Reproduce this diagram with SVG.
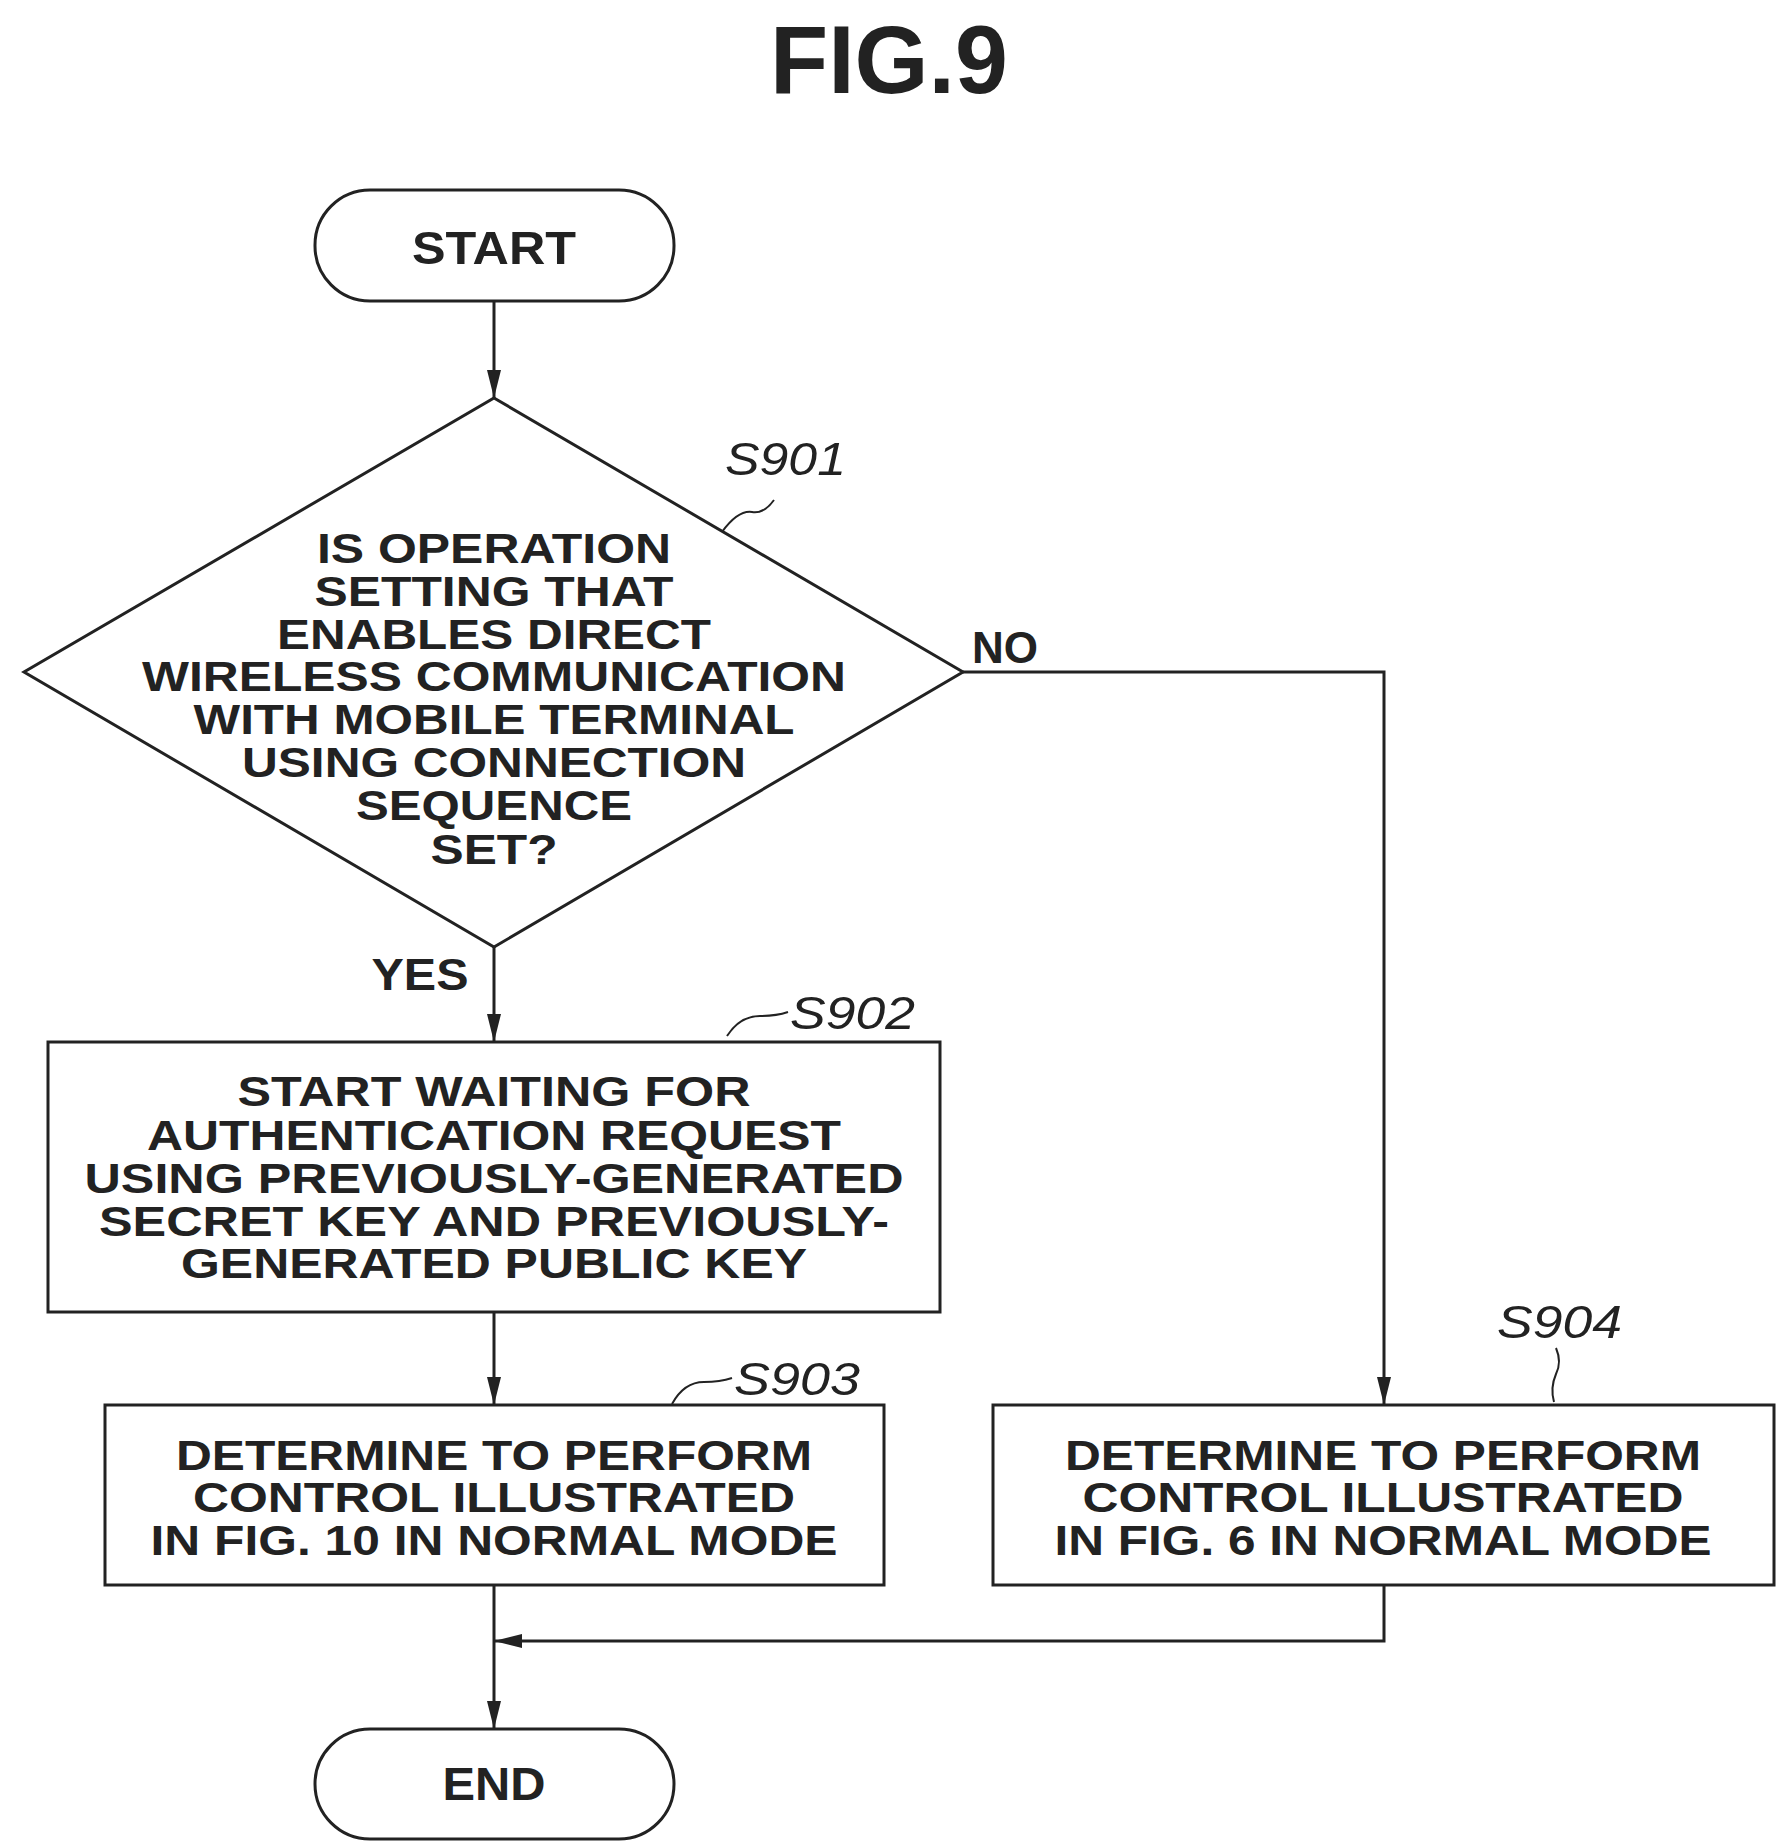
<svg xmlns="http://www.w3.org/2000/svg" width="1782" height="1848" viewBox="0 0 1782 1848">
<style>
.s{fill:#fff;stroke:#222;stroke-width:3}
.t{font-family:"Liberation Sans",Arial,sans-serif;font-weight:bold;font-size:42px;fill:#222;text-anchor:middle}
.l{font-family:"Liberation Sans",Arial,sans-serif;font-style:italic;font-size:46px;fill:#222}
.c{fill:none;stroke:#222;stroke-width:3}
</style>
<defs>
<marker id="b" markerWidth="28" markerHeight="14" refX="28" refY="7" orient="auto" markerUnits="userSpaceOnUse"><path d="M0,0 L28,7 L0,14 Z" fill="#222"/></marker></defs>
<text x="889" y="93" class="t" style="font-size:96px" textLength="238" lengthAdjust="spacingAndGlyphs">FIG.9</text>
<g id="connectors">
<path class="c" d="M494,301 V398" marker-end="url(#b)"/>
<path class="c" d="M494,947 V1042" marker-end="url(#b)"/>
<path class="c" d="M963,672 H1384 V1405" marker-end="url(#b)"/>
<path class="c" d="M494,1312 V1405" marker-end="url(#b)"/>
<path class="c" d="M494,1585 V1729" marker-end="url(#b)"/>
<path class="c" d="M1384,1585 V1641 H494" marker-end="url(#b)"/>
<text x="972" y="663" class="t" style="text-anchor:start;font-size:44px">NO</text>
<text x="420" y="990" class="t" style="font-size:44px" textLength="97" lengthAdjust="spacingAndGlyphs">YES</text>
</g>
<g id="start"><rect class="s" x="315" y="190" width="359" height="111" rx="55"/><text x="494" y="264" class="t" style="font-size:46px" textLength="164" lengthAdjust="spacingAndGlyphs">START</text></g>
<g id="s901"><path class="s" d="M494,398 L963,672 L494,947 L24,672 Z"/>
<text class="t" x="494" y="563" textLength="354" lengthAdjust="spacingAndGlyphs">IS OPERATION</text>
<text class="t" x="494" y="606" textLength="359" lengthAdjust="spacingAndGlyphs">SETTING THAT</text>
<text class="t" x="494" y="649" textLength="434" lengthAdjust="spacingAndGlyphs">ENABLES DIRECT</text>
<text class="t" x="494" y="691" textLength="704" lengthAdjust="spacingAndGlyphs">WIRELESS COMMUNICATION</text>
<text class="t" x="494" y="734" textLength="601" lengthAdjust="spacingAndGlyphs">WITH MOBILE TERMINAL</text>
<text class="t" x="494" y="777" textLength="504" lengthAdjust="spacingAndGlyphs">USING CONNECTION</text>
<text class="t" x="494" y="820" textLength="276" lengthAdjust="spacingAndGlyphs">SEQUENCE</text>
<text class="t" x="494" y="864" textLength="127" lengthAdjust="spacingAndGlyphs">SET?</text>
<text class="l" x="725" y="475" textLength="121" lengthAdjust="spacingAndGlyphs">S901</text>
<path class="c" style="stroke-width:2" d="M722,532 Q738,510 752,512 Q764,514 774,500"/></g>
<g id="s902"><rect class="s" x="48" y="1042" width="892" height="270"/>
<text class="t" x="494" y="1106" textLength="513" lengthAdjust="spacingAndGlyphs">START WAITING FOR</text>
<text class="t" x="494" y="1150" textLength="694" lengthAdjust="spacingAndGlyphs">AUTHENTICATION REQUEST</text>
<text class="t" x="494" y="1193" textLength="819" lengthAdjust="spacingAndGlyphs">USING PREVIOUSLY-GENERATED</text>
<text class="t" x="494" y="1236" textLength="790" lengthAdjust="spacingAndGlyphs">SECRET KEY AND PREVIOUSLY-</text>
<text class="t" x="494" y="1278" textLength="626" lengthAdjust="spacingAndGlyphs">GENERATED PUBLIC KEY</text>
<text class="l" x="790" y="1029" textLength="125" lengthAdjust="spacingAndGlyphs">S902</text>
<path class="c" style="stroke-width:2" d="M727,1036 Q740,1016 760,1016 Q776,1016 788,1012"/></g>
<g id="s903"><rect class="s" x="105" y="1405" width="779" height="180"/>
<text class="t" x="494" y="1470" textLength="636" lengthAdjust="spacingAndGlyphs">DETERMINE TO PERFORM</text>
<text class="t" x="494" y="1512" textLength="602" lengthAdjust="spacingAndGlyphs">CONTROL ILLUSTRATED</text>
<text class="t" x="494" y="1555" textLength="687" lengthAdjust="spacingAndGlyphs">IN FIG. 10 IN NORMAL MODE</text>
<text class="l" x="734" y="1395" textLength="126" lengthAdjust="spacingAndGlyphs">S903</text>
<path class="c" style="stroke-width:2" d="M672,1404 Q684,1382 704,1382 Q720,1382 732,1378"/></g>
<g id="s904"><rect class="s" x="993" y="1405" width="781" height="180"/>
<text class="t" x="1383" y="1470" textLength="636" lengthAdjust="spacingAndGlyphs">DETERMINE TO PERFORM</text>
<text class="t" x="1383" y="1512" textLength="601" lengthAdjust="spacingAndGlyphs">CONTROL ILLUSTRATED</text>
<text class="t" x="1383" y="1555" textLength="657" lengthAdjust="spacingAndGlyphs">IN FIG. 6 IN NORMAL MODE</text>
<text class="l" x="1497" y="1338" textLength="125" lengthAdjust="spacingAndGlyphs">S904</text>
<path class="c" style="stroke-width:2" d="M1556,1348 Q1562,1362 1556,1374 Q1550,1388 1554,1402"/></g>
<g id="end"><rect class="s" x="315" y="1729" width="359" height="110" rx="55"/><text x="494" y="1800" class="t" style="font-size:46px" textLength="103" lengthAdjust="spacingAndGlyphs">END</text></g>
</svg>
